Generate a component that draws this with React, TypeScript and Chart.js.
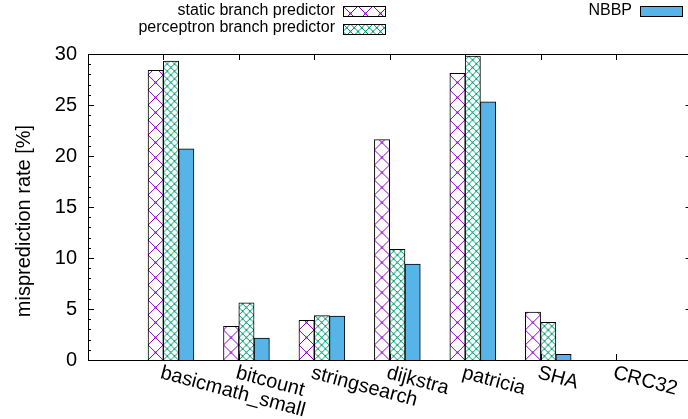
import React, { useEffect, useRef } from "react";
import { Chart, registerables } from "chart.js";

Chart.register(...registerables);

// ---- data ----
const categories = ["basicmath_small", "bitcount", "stringsearch", "dijkstra", "patricia", "SHA", "CRC32"];
const staticBP = [28.4, 3.3, 3.9, 21.6, 28.1, 4.7, 0];
const perceptronBP = [29.3, 5.6, 4.35, 10.85, 29.8, 3.7, 0];
const nbbp = [20.7, 2.15, 4.3, 9.4, 25.3, 0.55, 0];
const seriesNames = ["static branch predictor", "perceptron branch predictor", "NBBP"];
const yAxisTitle = "misprediction rate [%]";
const yMin = 0;
const yMax = 30;
const yMajorStep = 5;

// ---- style ----
const FONT = "'Liberation Sans', Arial, Helvetica, sans-serif";
const PURPLE = "#9400D3";
const GREEN = "#009E73";
const BLUE = "#56B4E9";
const BAR_W = 15.3;
const TICK_SHIFT = 0.1; // gnuplot histogram: tick sits slightly left of group centre

function makeHatch(color: string, period: number, tile: number, dotR: number): CanvasPattern {
  const c = document.createElement("canvas");
  c.width = tile;
  c.height = tile;
  const g = c.getContext("2d")!;
  g.fillStyle = "#ffffff";
  g.fillRect(0, 0, tile, tile);
  g.strokeStyle = color;
  g.lineWidth = 1;
  g.beginPath();
  for (let k = -tile; k <= 2 * tile; k += period) {
    g.moveTo(k, 0);
    g.lineTo(k + tile, tile);
    g.moveTo(k, 0);
    g.lineTo(k - tile, tile);
  }
  g.stroke();
  g.fillStyle = color;
  const h = period / 2;
  for (let m = 0; m * h <= tile; m++) {
    for (let n = 0; n * h <= tile; n++) {
      if ((m + n) % 2 === 0) {
        g.beginPath();
        g.arc(m * h, n * h, dotR, 0, Math.PI * 2);
        g.fill();
      }
    }
  }
  return g.createPattern(c, "repeat")!;
}

const hatchSpecs: ({ color: string; period: number; dot: number } | null)[] = [
  { color: PURPLE, period: 15, dot: 1.1 },
  { color: GREEN, period: 7.5, dot: 0.9 },
  null,
];

export default function App() {
  const ref = useRef<HTMLCanvasElement | null>(null);

  useEffect(() => {
    const canvas = ref.current!;
    const legendFills: (string | CanvasPattern)[] = [
      makeHatch(PURPLE, 15, 15, 1.1),
      makeHatch(GREEN, 7.5, 15, 0.9),
      BLUE,
    ];

    const barFill = (d: number) => (c: any) => {
      const spec = hatchSpecs[d];
      if (!spec) return BLUE;
      if (c.type !== "data" || !c.chart.scales || !c.chart.scales.x) return legendFills[d];
      const xs = c.chart.scales.x;
      const ys = c.chart.scales.y;
      const L = xs.getPixelForValue(c.dataIndex) - 1.5 * BAR_W + d * BAR_W;
      const pat = makeHatch(spec.color, spec.period, 15, spec.dot);
      try {
        pat.setTransform(new DOMMatrix().translate(L, ys.getPixelForValue(0)));
      } catch (e) {}
      return pat;
    };

    const decor = {
      id: "decor",
      afterDatasetsDraw(chart: any) {
        const ctx: CanvasRenderingContext2D = chart.ctx;
        const xs = chart.scales.x;
        const ys = chart.scales.y;
        const { left, top, bottom, right } = chart.chartArea;
        const xRight = xs.getPixelForValue(categories.length - TICK_SHIFT);
        ctx.save();
        ctx.strokeStyle = "#000";
        ctx.lineWidth = 1;
        // frame
        ctx.beginPath();
        ctx.moveTo(left + 0.5, top + 0.5);
        ctx.lineTo(left + 0.5, bottom + 0.5);
        ctx.moveTo(left, top + 0.5);
        ctx.lineTo(right, top + 0.5);
        ctx.moveTo(left, bottom + 0.5);
        ctx.lineTo(right, bottom + 0.5);
        ctx.stroke();
        // y ticks (left and right, inward)
        ctx.beginPath();
        for (let v = yMin; v <= yMax; v++) {
          const len = v % yMajorStep === 0 ? 6 : 3;
          const py = Math.round(ys.getPixelForValue(v)) + 0.5;
          ctx.moveTo(left, py);
          ctx.lineTo(left + len, py);
          ctx.moveTo(xRight, py);
          ctx.lineTo(xRight - len, py);
        }
        // x ticks top & bottom
        categories.forEach((_, i) => {
          const px = Math.round(xs.getPixelForValue(i - TICK_SHIFT)) + 0.5;
          ctx.moveTo(px, top);
          ctx.lineTo(px, top + 6);
          ctx.moveTo(px, bottom);
          ctx.lineTo(px, bottom - 6);
        });
        ctx.stroke();

        // x labels rotated by 15deg clockwise
        ctx.fillStyle = "#000";
        ctx.font = `20px ${FONT}`;
        ctx.textAlign = "left";
        ctx.textBaseline = "top";
        categories.forEach((name, i) => {
          const px = xs.getPixelForValue(i - TICK_SHIFT);
          ctx.save();
          ctx.translate(px, bottom + 3);
          ctx.rotate((15 * Math.PI) / 180);
          ctx.fillText(name, 0, 0);
          ctx.restore();
        });

        // y title
        ctx.save();
        ctx.translate(24, 221);
        ctx.rotate(-Math.PI / 2);
        ctx.textAlign = "center";
        ctx.textBaseline = "middle";
        ctx.fillText(yAxisTitle, 0, 0);
        ctx.restore();

        // legend
        const legend = [
          { textRight: 335, boxX: 343, cy: 10.5 },
          { textRight: 335, boxX: 343, cy: 28 },
          { textRight: 632, boxX: 640, cy: 10.5 },
        ];
        ctx.font = `16px ${FONT}`;
        ctx.textAlign = "right";
        ctx.textBaseline = "middle";
        legend.forEach((l, i) => {
          ctx.fillStyle = "#000";
          ctx.fillText(seriesNames[i], l.textRight, l.cy);
          const by = Math.round(l.cy - 4.5);
          const f = legendFills[i];
          if (typeof f !== "string") {
            try {
              (f as CanvasPattern).setTransform(new DOMMatrix().translate(l.boxX, by));
            } catch (e) {}
          }
          ctx.fillStyle = f as any;
          ctx.fillRect(l.boxX, by, 42, 10);
          ctx.strokeStyle = "#000";
          ctx.strokeRect(l.boxX + 0.5, by + 0.5, 42, 10);
        });
        ctx.restore();
      },
    };

    const values = [staticBP, perceptronBP, nbbp];
    const chart = new Chart(canvas, {
      type: "bar",
      data: {
        datasets: values.map((arr, d) => ({
          label: seriesNames[d],
          data: arr.map((y, i) => ({ x: i, y })),
          backgroundColor: barFill(d) as any,
          borderColor: "#000",
          borderWidth: 1,
          barThickness: BAR_W,
        })),
      },
      options: {
        animation: false,
        responsive: false,
        devicePixelRatio: 1,
        layout: { padding: { top: 54, bottom: 59, left: 0, right: 0 } },
        plugins: { legend: { display: false }, tooltip: { enabled: false } },
        scales: {
          x: {
            type: "linear",
            display: false,
            offset: false,
            min: -1.1,
            max: -1.1 + 600 / 75.45,
          },
          y: {
            type: "linear",
            min: yMin,
            max: yMax,
            grid: { display: false, drawTicks: false },
            border: { display: false },
            ticks: {
              stepSize: yMajorStep,
              padding: 11,
              color: "#000",
              font: { family: FONT, size: 20 },
            },
            afterFit: (s: any) => {
              s.width = 88;
            },
          },
        },
      },
      plugins: [decor],
    });
    return () => chart.destroy();
  }, []);

  return (
    <div style={{ position: "fixed", left: 0, top: 0, width: 688, height: 419, background: "#fff" }}>
      <canvas ref={ref} width={688} height={419} style={{ display: "block" }} />
    </div>
  );
}
